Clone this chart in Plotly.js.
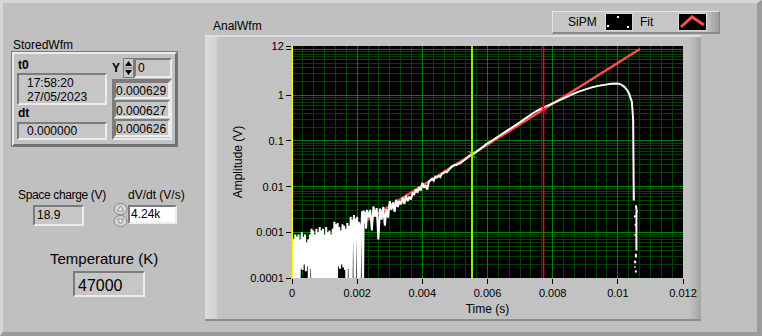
<!DOCTYPE html>
<html><head><meta charset="utf-8">
<script src="https://cdn.plot.ly/plotly-3.0.1.min.js"></script>
<style>
html,body{margin:0;padding:0;background:#c0c0c0;}
#panel{position:relative;width:762px;height:336px;overflow:hidden;background:#c0c0c0;font-family:"Liberation Sans",Arial,sans-serif;font-size:12px;color:#000;}
.abs{position:absolute;box-sizing:border-box;}
.lbl{position:absolute;white-space:nowrap;line-height:1;}
.sunk{position:absolute;box-sizing:border-box;border-style:solid;border-width:2px;border-color:#7c7c7c #ececec #ececec #7c7c7c;background:#c6c6c6;}
.rais{position:absolute;box-sizing:border-box;border-style:solid;border-width:2px;border-color:#ececec #6f6f6f #6f6f6f #ececec;}
#chart{position:absolute;left:0;top:0;width:762px;height:336px;z-index:2;}
.top{z-index:3;}
</style></head>
<body><div id="panel">
<!-- outer bevel -->
<div class="abs" style="left:0;top:0;width:762px;height:336px;border-style:solid;border-width:3px 5px 4px 3px;border-color:#d6d6d6 #9c9c9c #9c9c9c #d6d6d6;z-index:0"></div>
<!-- graph frame -->
<div class="abs" style="left:205px;top:35px;width:496px;height:286px;z-index:1;border-top:2px solid #dedede;border-bottom:2px solid #8e8e8e;background:linear-gradient(to right,#dcdcdc 0,#d2d2d2 11px,#c2c2c2 13px,#c2c2c2 484px,#a4a4a4 496px);"></div>
<div id="chart"></div>
<!-- legend -->
<div class="abs top" style="left:552px;top:11px;width:168px;height:23px;border-style:solid;border-width:1px 1px 2px 1px;border-color:#e6e6e6 #8a8a8a #8a8a8a #e6e6e6;background:linear-gradient(to right,#c6c6c6 0,#c6c6c6 152px,#9c9c9c 166px);"></div>
<div class="lbl top" style="left:568px;top:16px;">SiPM</div>
<div class="abs top" style="left:605px;top:13px;width:28px;height:18px;background:#000;border:1px solid #d8d8d8;">
  <div class="abs" style="left:11px;top:2px;width:2px;height:2px;background:#fff"></div>
  <div class="abs" style="left:1px;top:11px;width:2px;height:2px;background:#fff"></div>
  <div class="abs" style="left:21px;top:12px;width:2px;height:2px;background:#fff"></div>
</div>
<div class="lbl top" style="left:640px;top:16px;">Fit</div>
<div class="abs top" style="left:678px;top:13px;width:29px;height:18px;background:#000;border:1px solid #d8d8d8;">
  <svg width="27" height="16" style="position:absolute;left:0;top:0"><polyline points="2,13 13,3 25,11" fill="none" stroke="#ff4d4d" stroke-width="3"/></svg>
</div>
<!-- graph label -->
<div class="lbl top" style="left:213px;top:20px;">AnalWfm</div>
<!-- StoredWfm cluster -->
<div class="lbl top" style="left:13px;top:39px;">StoredWfm</div>
<div class="rais top" style="left:12px;top:52px;width:165px;height:94px;background:#c2c2c2;outline:1px solid #7a7a7a;"></div>
<div class="lbl top" style="left:18px;top:59px;font-weight:bold;">t0</div>
<div class="sunk top" style="left:17px;top:73px;width:90px;height:32px;"></div>
<div class="lbl top" style="left:27px;top:77px;">17:58:20</div>
<div class="lbl top" style="left:27px;top:91px;">27/05/2023</div>
<div class="lbl top" style="left:18px;top:107px;font-weight:bold;">dt</div>
<div class="sunk top" style="left:17px;top:122px;width:90px;height:18px;"></div>
<div class="lbl top" style="left:27px;top:125px;">0.000000</div>
<div class="lbl top" style="left:112px;top:62px;font-weight:bold;">Y</div>
<div class="abs top" style="left:123px;top:58px;width:11px;height:20px;background:#c8c8c8;border:1px solid #7a7a7a;">
  <svg width="9" height="18" style="position:absolute;left:0;top:0"><polygon points="4.5,2 8,7 1,7" fill="#000"/><line x1="0" y1="9" x2="9" y2="9" stroke="#7a7a7a"/><polygon points="1,11 8,11 4.5,16" fill="#000"/></svg>
</div>
<div class="sunk top" style="left:134px;top:58px;width:38px;height:20px;"></div>
<div class="lbl top" style="left:138px;top:62px;">0</div>
<div class="sunk top" style="left:112px;top:79px;width:60px;height:61px;background:#c2c2c2;"></div>
<div class="sunk top" style="left:114px;top:81px;width:56px;height:18px;"></div>
<div class="sunk top" style="left:114px;top:100px;width:56px;height:18px;"></div>
<div class="sunk top" style="left:114px;top:119px;width:56px;height:18px;"></div>
<div class="lbl top" style="left:116px;top:85px;">0.000629</div>
<div class="lbl top" style="left:116px;top:105px;">0.000627</div>
<div class="lbl top" style="left:116px;top:123px;">0.000626</div>
<!-- Space charge -->
<div class="lbl top" style="left:18px;top:189px;letter-spacing:-0.35px;">Space charge (V)</div>
<div class="sunk top" style="left:33px;top:205px;width:51px;height:21px;"></div>
<div class="lbl top" style="left:37px;top:209px;">18.9</div>
<!-- dV/dt -->
<div class="lbl top" style="left:128px;top:189px;">dV/dt (V/s)</div>
<div class="abs top" style="left:113px;top:203px;width:15px;height:24px;">
  <svg width="15" height="24"><ellipse cx="7.5" cy="6" rx="6.5" ry="5.5" fill="#d4d4d4" stroke="#8a8a8a"/><ellipse cx="7.5" cy="18" rx="6.5" ry="5.5" fill="#d4d4d4" stroke="#8a8a8a"/><polygon points="7.5,3 10.5,8 4.5,8" fill="#ededed" stroke="#7a7a7a" stroke-width="0.8"/><polygon points="4.5,16 10.5,16 7.5,21" fill="#ededed" stroke="#7a7a7a" stroke-width="0.8"/></svg>
</div>
<div class="sunk top" style="left:128px;top:205px;width:49px;height:19px;background:#ffffff;"></div>
<div class="lbl top" style="left:131px;top:208px;">4.24k</div>
<!-- Temperature -->
<div class="lbl top" style="left:50px;top:251px;font-size:15px;">Temperature (K)</div>
<div class="sunk top" style="left:73px;top:271px;width:72px;height:26px;"></div>
<div class="lbl top" style="left:78px;top:278px;font-size:16px;">47000</div>
</div>
<script>
// ---- data ----
// noisy start, sampled every 25 us
const noiseT = [0,0.000025,0.00005,0.000075,0.0001,0.000125,0.00015,0.000175,0.0002,0.000225,0.00025,0.000275,0.0003,0.000325,0.00035,0.000375,0.0004,0.000425,0.00045,0.000475,0.0005,0.000525,0.00055,0.000575,0.0006,0.000625,0.00065,0.000675,0.0007,0.000725,0.00075,0.000775,0.0008,0.000825,0.00085,0.000875,0.0009,0.000925,0.00095,0.000975,0.001,0.001025,0.00105,0.001075,0.0011,0.001125,0.00115,0.001175,0.0012,0.001225,0.00125,0.001275,0.0013,0.001325,0.00135,0.001375,0.0014,0.001425,0.00145,0.001475,0.0015,0.001525,0.00155,0.001575,0.0016,0.001625,0.00165,0.001675,0.0017,0.001725,0.00175,0.001775,0.0018,0.001825,0.00185,0.001875,0.0019,0.001925,0.00195,0.001975,0.002,0.002025,0.00205,0.002075,0.0021,0.002125,0.00215,0.002175,0.0022,0.002225,0.00225,0.002275,0.0023];
const noiseV = [0.0008,0.00003,0.0007,0.00003,0.0009,0.00003,0.0008,0.00003,0.0009,0.00003,0.0007,0.00016,
 0.001,0.00015,0.0008,0.0002,0.0009,0.00014,0.0006,0.00018,0.0007,0.00003,0.0009,0.00016,0.0012,0.00003,
 0.0011,0.00003,0.0009,0.00003,0.0012,0.00003,0.001,0.00003,0.0013,0.00003,0.0011,0.00003,0.0012,0.00003,0.0009,0.00003,0.0013,0.00003,0.001,0.00003,0.0011,0.00003,0.0009,0.00003,0.0012,0.00003,0.0017,0.00003,0.0015,0.00003,
 0.0016,0.00018,0.0013,0.00016,0.0011,0.0002,0.0015,0.00017,0.0014,0.00015,0.0012,0.00003,0.0016,0.00016,0.0014,0.00003,
 0.0022,0.00003,0.0019,0.0006,0.0024,0.00003,0.002,0.0009,0.0022,0.00003,
 0.0017,0.00003,0.0015,0.0008,0.0029,0.00003,0.003,0.0016,0.0028,0.0012,0.0031];
// noisy rise, sampled every 50 us
const riseT = [0.00235,0.0024,0.00245,0.0025,0.00255,0.0026,0.00265,0.0027,0.00275,0.0028,0.00285,0.0029,0.00295,0.003,0.00305,0.0031,0.00315,0.0032,0.00325,0.0033,0.00335,0.0034,0.00345,0.0035,0.00355,0.0036,0.00365,0.0037,0.00375,0.0038,0.00385,0.0039,0.00395,0.004,0.00405,0.0041,0.00415,0.0042,0.00425,0.0043,0.00435,0.0044,0.00445,0.0045,0.00455,0.0046,0.00465,0.0047,0.00475,0.0048,0.00485,0.0049,0.00495,0.005,0.00505,0.0051,0.00515,0.0052,0.00525,0.0053,0.00535,0.0054,0.00545,0.0055];
const riseV = [0.0021,0.0031,0.0011,0.0037,0.0022,0.0034,0.0007,0.0033,0.0019,0.0036,0.0014,0.0032,0.0021,0.0048,0.0031,0.0045,0.0028,0.0052,0.0036,0.0049,0.0041,0.0058,0.0042,0.0063,0.0048,0.0061,0.0052,0.0072,0.0068,0.0088,0.0074,0.0098,0.0082,0.0122,0.0095,0.0108,0.0086,0.0128,0.0138,0.0149,0.0135,0.0165,0.0158,0.0172,0.0162,0.0192,0.0198,0.0212,0.0205,0.0232,0.025,0.0275,0.0285,0.0302,0.0296,0.0318,0.0322,0.0345,0.037,0.0398,0.0415,0.0442,0.0468,0.0498];
// smooth growth, peak and collapse
const peakT = [0.0056,0.0058,0.006,0.0062,0.0064,0.0066,0.0068,0.007,0.0072,0.0074,0.0076,0.0078,0.008,0.0082,0.0084,0.0086,0.0088,0.009,0.0092,0.0094,0.0096,0.0098,0.01,0.0101,0.0102,0.01025,0.0103,0.01035,0.0104,0.01043,0.01045,0.01047,0.01049];
const peakV = [0.054,0.069,0.089,0.109,0.134,0.166,0.206,0.258,0.324,0.41,0.49,0.575,0.674,0.784,0.913,1.046,1.205,1.353,1.49,1.607,1.716,1.796,1.805,1.72,1.53,1.42,1.26,1.06,0.87,0.72,0.47,0.285,0.005];
// scattered tail after the collapse (null = off-scale, not drawn)
const tailT = [0.0105,0.010554,0.010585,0.0106,0.010523,0.010523,0.01053,0.01054,0.01054,0.01055,0.01057,0.01057,0.01058,0.010523,0.010523,0.01053,0.010554,0.010554,0.01056,0.010523,0.01054,0.01055,0.010523,0.01053,0.01054,0.010554,0.010554];
const tailV = [null,0.0039,0.0027,null,0.00235,0.00212,null,0.0015,0.0014,null,0.0028,0.0004,null,0.0009,0.00085,null,0.00034,0.00028,null,0.00024,0.00021,null,0.00018,0.00017,null,0.000146,0.000132];
const fitT = [0, 0.01068];
const fitV = [0.000172, 10.3];
const cursorT = [0, 0.005524, 0.00772];
const cursorV = [0.00066, 0.0506, 0.48];
const xTickVals = [0,0.002,0.004,0.006,0.008,0.01,0.012];
const xTickText = ['0','0.002','0.004','0.006','0.008','0.01','0.012'];
const yTickVals = [0.0001,0.001,0.01,0.1,1,10,12];
const yTickText = ['0.0001','0.001','0.01','0.1','1','','12'];

const sipmT = noiseT.concat(riseT, peakT, tailT);
const sipmV = noiseV.concat(riseV, peakV, tailV);
const cursorColors = ['#ffff00','#80ff00','#ff0000'];
const cursorWidths = [2,2,1.5];

const traces = [
 {name:'Fit', x:fitT, y:fitV, type:'scatter', mode:'lines', line:{color:'#ff4d4d', width:2.5}, hoverinfo:'skip'},
 {name:'SiPM', x:sipmT, y:sipmV, type:'scatter', mode:'lines', line:{color:'#ffffff', width:2}, connectgaps:false, hoverinfo:'skip'},
 {name:'cursors', x:cursorT, y:cursorV, type:'scatter', mode:'markers', marker:{symbol:'x-thin', size:7, line:{width:1, color:cursorColors}}, hoverinfo:'skip'}
];
const layout = {
 width:762, height:336,
 margin:{l:292, r:79, t:46, b:58, pad:0},
 paper_bgcolor:'rgba(0,0,0,0)', plot_bgcolor:'#000000',
 showlegend:false,
 font:{family:'Liberation Sans, Arial, sans-serif', size:11, color:'#000'},
 xaxis:{range:[0,0.012], tickmode:'array', tickvals:xTickVals, ticktext:xTickText, ticks:'outside', ticklen:5, tickcolor:'#000',
   showgrid:true, gridcolor:'#008400', gridwidth:1, zeroline:false, showline:false, fixedrange:true,
   minor:{dtick:0.002/6, tick0:0, showgrid:true, gridcolor:'#004000', ticks:''},
   title:{text:'Time (s)', font:{size:12}, standoff:6}},
 yaxis:{type:'log', range:[-4, Math.log10(12)], tickmode:'array', tickvals:yTickVals, ticktext:yTickText, ticks:'outside', ticklen:5, tickcolor:'#000',
   showgrid:true, gridcolor:'#008400', gridwidth:1, zeroline:false, showline:false, fixedrange:true,
   minor:{dtick:'D1', showgrid:true, gridcolor:'#004000', ticks:''},
   title:{text:'Amplitude (V)', font:{size:12}, standoff:4}},
 shapes: cursorT.map((t,i)=>({type:'line', xref:'x', yref:'paper', x0:t, x1:t, y0:0, y1:1, line:{color:cursorColors[i], width:cursorWidths[i]}}))
};
Plotly.newPlot('chart', traces, layout, {staticPlot:true, displayModeBar:false});
</script>
</body></html>
